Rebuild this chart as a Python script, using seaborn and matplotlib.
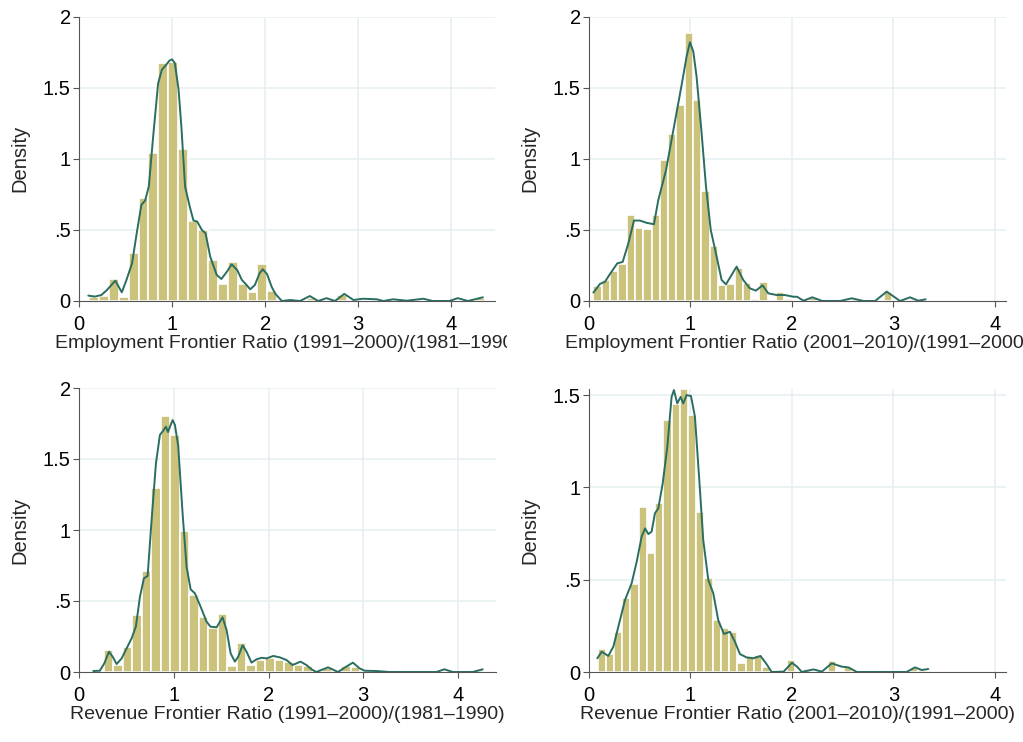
import matplotlib
matplotlib.use("Agg")
import matplotlib.pyplot as plt
import numpy as np
import pandas as pd
import seaborn as sns
from matplotlib.transforms import Bbox, TransformedBbox

# bar heights (density) per bin
emp1_heights = [0.03, 0.038, 0.153, 0.03, 0.336, 0.725, 1.042, 1.671, 1.683, 1.066,
                0.563, 0.50, 0.289, 0.117, 0.272, 0.12, 0.063, 0.258, 0.07, 0.0,
                0.0, 0.01, 0.02, 0.01, 0.0, 0.042, 0.0, 0.01, 0.01, 0.0,
                0.01, 0.0, 0.0, 0.01, 0.0, 0.0, 0.0, 0.01, 0.0, 0.02]
emp2_heights = [0.106, 0.148, 0.211, 0.263, 0.603, 0.514, 0.505, 0.603, 0.99, 1.176,
                1.382, 1.887, 1.413, 0.775, 0.387, 0.113, 0.12, 0.235, 0.129, 0.014,
                0.131, 0.0, 0.063, 0.016, 0.0, 0.01, 0.02, 0.0, 0.0, 0.0,
                0.0, 0.015, 0.0, 0.0, 0.0, 0.061, 0.0, 0.0, 0.015, 0.01]
rev1_heights = [0.0, 0.155, 0.047, 0.174, 0.40, 0.711, 1.296, 1.80, 1.666, 0.995,
                0.542, 0.39, 0.307, 0.406, 0.04, 0.204, 0.047, 0.085, 0.10, 0.087,
                0.068, 0.05, 0.04, 0.0, 0.026, 0.0, 0.045, 0.038, 0.0, 0.0,
                0.0, 0.0, 0.0, 0.0, 0.0, 0.0, 0.01, 0.0, 0.0, 0.0, 0.015]
rev2_heights = [0.123, 0.10, 0.218, 0.40, 0.477, 0.893, 0.644, 0.915, 1.365, 1.451,
                1.532, 1.393, 0.868, 0.509, 0.282, 0.236, 0.215, 0.05, 0.087, 0.09,
                0.029, 0.0, 0.0, 0.065, 0.0, 0.014, 0.0, 0.0, 0.058, 0.0,
                0.029, 0.0, 0.0, 0.0, 0.0, 0.0, 0.0, 0.0, 0.02, 0.01]

# histogram bin start and width for each panel
emp1_bins = (0.107, 0.1065)
emp2_bins = (0.044, 0.0818)
rev1_bins = (0.16, 0.1002)
rev2_bins = (0.0845, 0.081)

# kernel density curves, traced points
emp1_kx = [0.10, 0.17, 0.24, 0.30, 0.39, 0.46, 0.51, 0.57, 0.62, 0.67, 0.71, 0.75, 0.80,
           0.85, 0.89, 0.935, 0.97, 1.0, 1.03, 1.07, 1.10, 1.14, 1.19, 1.23, 1.27, 1.32,
           1.36, 1.41, 1.48, 1.53, 1.59, 1.64, 1.70, 1.75, 1.80, 1.84, 1.89, 1.94, 1.975,
           2.02, 2.07, 2.11, 2.18, 2.27, 2.375, 2.48, 2.57, 2.66, 2.75, 2.85, 2.95, 3.05,
           3.2, 3.27, 3.375, 3.52, 3.7, 3.8, 3.98, 4.07, 4.18, 4.34]
emp1_ky = [0.038, 0.031, 0.042, 0.077, 0.143, 0.061, 0.148, 0.265, 0.476, 0.676, 0.706,
           0.805, 1.18, 1.53, 1.626, 1.66, 1.69, 1.70, 1.673, 1.486, 1.227, 0.805, 0.664,
           0.566, 0.559, 0.50, 0.476, 0.312, 0.183, 0.155, 0.207, 0.258, 0.218, 0.148,
           0.113, 0.082, 0.113, 0.195, 0.223, 0.19, 0.10, 0.05, 0.0, 0.007, 0.0, 0.035,
           0.0, 0.02, 0.0, 0.05, 0.007, 0.016, 0.012, 0.0, 0.012, 0.002, 0.016, 0.0, 0.0,
           0.02, 0.0, 0.026]
emp2_kx = [0.043, 0.108, 0.158, 0.207, 0.279, 0.332, 0.388, 0.443, 0.502, 0.568, 0.64,
           0.683, 0.759, 0.831, 0.913, 0.962, 0.995, 1.028, 1.06, 1.11, 1.153, 1.2, 1.258,
           1.307, 1.35, 1.405, 1.455, 1.52, 1.586, 1.645, 1.711, 1.767, 1.849, 1.93, 2.013,
           2.05, 2.115, 2.2, 2.3, 2.475, 2.59, 2.705, 2.82, 2.934, 3.066, 3.164, 3.246, 3.318]
emp2_ky = [0.059, 0.12, 0.136, 0.19, 0.265, 0.275, 0.406, 0.566, 0.566, 0.55, 0.54, 0.71,
           0.92, 1.20, 1.52, 1.72, 1.82, 1.755, 1.58, 1.18, 0.805, 0.50, 0.312, 0.148,
           0.117, 0.183, 0.242, 0.148, 0.089, 0.073, 0.11, 0.054, 0.042, 0.042, 0.03,
           0.03, 0.002, 0.026, 0.0, 0.0, 0.019, 0.0, 0.0, 0.066, 0.0, 0.026, 0.002, 0.012]
rev1_kx = [0.151, 0.22, 0.267, 0.316, 0.355, 0.397, 0.45, 0.503, 0.555, 0.60, 0.643, 0.685,
           0.724, 0.766, 0.812, 0.854, 0.889, 0.917, 0.939, 0.967, 0.988, 1.012, 1.047,
           1.093, 1.135, 1.178, 1.223, 1.283, 1.346, 1.388, 1.452, 1.515, 1.557, 1.60,
           1.645, 1.68, 1.726, 1.768, 1.82, 1.873, 1.926, 1.98, 2.05, 2.12, 2.19, 2.253,
           2.337, 2.40, 2.453, 2.505, 2.628, 2.733, 2.82, 2.89, 2.96, 3.014, 3.137, 3.277,
           3.77, 3.856, 3.944, 4.154, 4.26]
rev1_ky = [0.007, 0.009, 0.061, 0.143, 0.108, 0.056, 0.096, 0.167, 0.237, 0.319, 0.53,
           0.66, 0.676, 1.07, 1.47, 1.67, 1.70, 1.727, 1.69, 1.74, 1.774, 1.74, 1.59, 1.117,
           0.742, 0.582, 0.554, 0.46, 0.354, 0.319, 0.315, 0.385, 0.296, 0.131, 0.073,
           0.108, 0.188, 0.143, 0.066, 0.089, 0.10, 0.096, 0.113, 0.103, 0.084, 0.049,
           0.073, 0.049, 0.019, 0.0, 0.033, 0.0, 0.038, 0.066, 0.026, 0.009, 0.007, 0.0,
           0.0, 0.019, 0.0, 0.0, 0.019]
rev2_kx = [0.082, 0.125, 0.19, 0.24, 0.289, 0.355, 0.42, 0.47, 0.519, 0.552, 0.585, 0.617,
           0.65, 0.683, 0.726, 0.772, 0.814, 0.837, 0.87, 0.903, 0.929, 0.962, 1.005, 1.044,
           1.087, 1.126, 1.176, 1.225, 1.274, 1.33, 1.389, 1.438, 1.488, 1.553, 1.619, 1.69,
           1.75, 1.80, 1.918, 2.0, 2.05, 2.098, 2.213, 2.295, 2.393, 2.49, 2.557, 2.64,
           3.13, 3.213, 3.279, 3.344]
rev2_ky = [0.074, 0.11, 0.087, 0.137, 0.245, 0.39, 0.48, 0.597, 0.733, 0.778, 0.747, 0.76,
           0.86, 0.886, 1.02, 1.22, 1.49, 1.527, 1.455, 1.49, 1.455, 1.50, 1.495, 1.383,
           1.04, 0.715, 0.498, 0.426, 0.28, 0.206, 0.218, 0.164, 0.097, 0.079, 0.074,
           0.087, 0.043, 0.0, 0.002, 0.05, 0.029, 0.0, 0.014, 0.002, 0.047, 0.029, 0.025,
           0.0, 0.0, 0.025, 0.011, 0.016]

xticks = [0, 1, 2, 3, 4]
yticks_full = [0, 0.5, 1, 1.5, 2]
ytick_labels = ["0", ".5", "1", "1.5", "2"]

titles = ["Employment Frontier Ratio (1991\u20132000)/(1981\u20131990)",
          "Employment Frontier Ratio (2001\u20132010)/(1991\u20132000)",
          "Revenue Frontier Ratio (1991\u20132000)/(1981\u20131990)",
          "Revenue Frontier Ratio (2001\u20132010)/(1991\u20132000)"]

sns.set_theme(style="white")
plt.rcParams['font.family'] = ['Liberation Sans', 'DejaVu Sans']

BAR = "#cbc27c"
LINE = "#2a6d61"
GRID = "#e6eff1"
AXC = "#555555"
FS = 14

W, H = 1023, 742
fig = plt.figure(figsize=(W / 100, H / 100), dpi=100)


def panel(rect_px, bins, heights, kx, ky, xmax, ymax, nyt, label, clip_right=None):
    l, r, t, b = rect_px
    ax = fig.add_axes([l / W, (H - b) / H, (r - l) / W, (b - t) / H])
    start, width = bins
    edges = start + width * np.arange(len(heights) + 1)
    hist = pd.DataFrame({"x": edges[:-1] + width / 2, "w": heights})
    sns.histplot(data=hist, x="x", weights="w", bins=list(edges), stat="count",
                 color=BAR, alpha=1, edgecolor="white", linewidth=1.2, ax=ax)
    curve = pd.DataFrame({"x": kx, "y": ky})
    sns.lineplot(data=curve, x="x", y="y", color=LINE, linewidth=1.4, ax=ax, sort=False)
    ax.set_xlim(0, xmax)
    ax.set_ylim(0, ymax)
    ax.set_xticks(xticks)
    ax.set_xticklabels([str(v) for v in xticks])
    ax.set_yticks(yticks_full[:nyt])
    ax.set_yticklabels(ytick_labels[:nyt])
    for v in xticks[1:]:
        ax.axvline(v, color=GRID, lw=1.1, zorder=0)
    for v in yticks_full[1:nyt]:
        ax.axhline(v, color=GRID, lw=1.1, zorder=0)
    sns.despine(ax=ax, top=True, right=True)
    for s in ["left", "bottom"]:
        ax.spines[s].set_color(AXC)
        ax.spines[s].set_linewidth(0.8)
    ax.tick_params(axis="both", direction="out", length=4, width=0.8, color=AXC,
                   labelsize=FS + 0.5, labelcolor="black", left=True, bottom=True)
    ax.tick_params(axis="x", pad=6)
    ax.tick_params(axis="y", pad=2)
    ax.set_xlabel(label, fontsize=FS, labelpad=0.5)
    ax.set_ylabel("Density", fontsize=FS + 0.5, labelpad=10)
    if clip_right is not None:
        box = TransformedBbox(Bbox.from_extents(0, 0, clip_right / W, 1), fig.transFigure)
        ax.xaxis.label.set_clip_box(box)
        ax.xaxis.label.set_clip_on(True)
    return ax


panel((79, 495, 16.7, 301), emp1_bins, emp1_heights, emp1_kx, emp1_ky, 4.47, 2.0, 5,
      titles[0], clip_right=507)
panel((589, 1006, 16.7, 301), emp2_bins, emp2_heights, emp2_kx, emp2_ky, 4.11, 2.0, 5,
      titles[1])
panel((79, 496, 388, 672), rev1_bins, rev1_heights, rev1_kx, rev1_ky, 4.40, 2.0, 5,
      titles[2])
panel((589, 1006, 388.6, 672), rev2_bins, rev2_heights, rev2_kx, rev2_ky, 4.11, 1.535, 4,
      titles[3])

fig.savefig("out.png", dpi=100)
